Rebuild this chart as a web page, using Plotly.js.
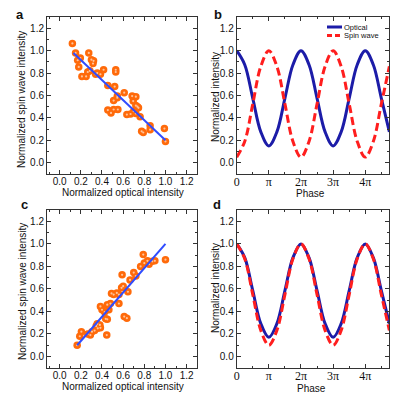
<!DOCTYPE html>
<html>
<head>
<meta charset="utf-8">
<script src="https://cdn.plot.ly/plotly-3.0.1.min.js"></script>
<style>
html, body { margin: 0; padding: 0; background: #fff; }
#chart { width: 416px; height: 398px; }
</style>
</head>
<body>
<div id="chart"></div>
<script>
// panel a: spin wave vs optical (anti-correlated)
const aOpt  = [0.12, 0.15, 0.17, 0.195, 0.18, 0.21, 0.25, 0.265, 0.285, 0.275, 0.30, 0.32, 0.315, 0.34, 0.355, 0.385,
               0.415, 0.455, 0.455, 0.485, 0.51, 0.52, 0.53, 0.53, 0.545, 0.545, 0.55, 0.51, 0.61, 0.635, 0.67, 0.685,
               0.695, 0.70, 0.72, 0.72, 0.735, 0.745, 0.72, 0.76, 0.775, 0.79, 0.855, 0.855, 0.99, 1.0];
const aSpin = [1.065, 0.98, 0.915, 0.935, 0.855, 0.77, 0.77, 0.81, 0.82, 0.98, 0.92, 0.91, 0.885, 0.79, 0.80, 0.79,
               0.83, 0.69, 0.47, 0.445, 0.475, 0.68, 0.83, 0.81, 0.595, 0.58, 0.475, 0.555, 0.625, 0.43, 0.435, 0.595,
               0.55, 0.46, 0.59, 0.51, 0.50, 0.49, 0.44, 0.41, 0.28, 0.27, 0.33, 0.295, 0.305, 0.19];
const aFitX = [0.13, 1.0];
const aFitY = [0.98, 0.20];

// panel c: spin wave vs optical (correlated)
const cOpt  = [0.165, 0.19, 0.205, 0.265, 0.29, 0.305, 0.33, 0.345, 0.36, 0.38, 0.385, 0.355, 0.385, 0.40, 0.425, 0.435,
               0.445, 0.45, 0.465, 0.48, 0.49, 0.51, 0.54, 0.56, 0.56, 0.585, 0.59, 0.60, 0.61, 0.635, 0.645, 0.665,
               0.70, 0.72, 0.765, 0.79, 0.80, 0.83, 0.845, 0.875, 0.90, 1.0, 0.45];
const cSpin = [0.10, 0.18, 0.22, 0.20, 0.19, 0.22, 0.23, 0.27, 0.25, 0.28, 0.255, 0.29, 0.445, 0.415, 0.395, 0.335,
               0.19, 0.46, 0.415, 0.47, 0.56, 0.55, 0.565, 0.55, 0.47, 0.61, 0.725, 0.625, 0.355, 0.34, 0.575, 0.68,
               0.745, 0.715, 0.80, 0.905, 0.83, 0.85, 0.82, 0.845, 0.85, 0.86, 0.33];
const cFitX = [0.165, 1.0];
const cFitY = [0.10, 1.0];

// panels b and d: intensity vs phase (phase in units of pi)
const phase = [0, 0.25, 0.5, 0.75, 1, 1.25, 1.5, 1.75, 2, 2.25, 2.5, 2.75, 3, 3.25, 3.5, 3.75, 4, 4.25, 4.5, 4.75];
const bOptical = [1.00, 0.875, 0.575, 0.275, 0.15, 0.275, 0.575, 0.875, 1.00, 0.875, 0.575, 0.275, 0.15, 0.275, 0.575, 0.875, 1.00, 0.875, 0.575, 0.275];
const bSpin    = [0.05, 0.19, 0.525, 0.86, 1.00, 0.86, 0.525, 0.19, 0.05, 0.19, 0.525, 0.86, 1.00, 0.86, 0.525, 0.19, 0.05, 0.19, 0.525, 0.86];
const dOptical = [1.00, 0.878, 0.585, 0.292, 0.17, 0.292, 0.585, 0.878, 1.00, 0.878, 0.585, 0.292, 0.17, 0.292, 0.585, 0.878, 1.00, 0.878, 0.585, 0.292];
const dSpin    = [1.00, 0.868, 0.55, 0.232, 0.10, 0.232, 0.55, 0.868, 1.00, 0.868, 0.55, 0.232, 0.10, 0.232, 0.55, 0.868, 1.00, 0.868, 0.55, 0.232];
const phaseTicks = [0, 1, 2, 3, 4];
const phaseLabels = ['0', 'π', '2π', '3π', '4π'];
const seriesNames = ['Optical', 'Spin wave'];

const sans = 'Liberation Sans Narrow, Arial Narrow, Liberation Sans, Arial, sans-serif';
const orange = '#ff6a0a';
const fitBlue = '#2f4cff';
const navy = '#1c1ca8';
const red = '#ff1e1e';
const redDash = '8px,4px';

// orange ball plus a small pale highlight on top of it
function dots(x, y, xa, ya) {
  return [
    { x: x, y: y, xaxis: xa, yaxis: ya, type: 'scatter', mode: 'markers', showlegend: false,
      marker: { size: 7.5, color: orange, line: { width: 0 } } },
    { x: x, y: y, xaxis: xa, yaxis: ya, type: 'scatter', mode: 'markers', showlegend: false,
      marker: { size: 2.2, color: 'rgba(255,205,170,0.9)', line: { width: 0 } } }
  ];
}
function fit(x, y, xa, ya) {
  return { x: x, y: y, xaxis: xa, yaxis: ya, type: 'scatter', mode: 'lines', showlegend: false,
    line: { color: fitBlue, width: 2 } };
}
function wave(y, xa, ya, name, color, dash) {
  return { x: phase, y: y, xaxis: xa, yaxis: ya, type: 'scatter', mode: 'lines', name: name, showlegend: false,
    line: { color: color, width: 3, dash: dash, shape: 'spline', smoothing: 1 } };
}

const data = [].concat(
  dots(aOpt, aSpin, 'x', 'y'), [fit(aFitX, aFitY, 'x', 'y')],
  [wave(bOptical, 'x2', 'y2', seriesNames[0], navy, 'solid'), wave(bSpin, 'x2', 'y2', seriesNames[1], red, redDash)],
  dots(cOpt, cSpin, 'x3', 'y3'), [fit(cFitX, cFitY, 'x3', 'y3')],
  [wave(dOptical, 'x4', 'y4', seriesNames[0], navy, 'solid'), wave(dSpin, 'x4', 'y4', seriesNames[1], red, redDash)]
);

const common = {
  showline: true, linecolor: '#333', linewidth: 1, mirror: 'ticks',
  ticks: 'inside', ticklen: 4, tickcolor: '#333', tickwidth: 1,
  showgrid: false, zeroline: false, fixedrange: true,
  tickfont: { family: sans, size: 10, color: '#111' }
};
function yax(dom, anchor) {
  return Object.assign({}, common, { domain: dom, anchor: anchor, range: [-0.1, 1.3], dtick: 0.2, tick0: 0,
    tickformat: '.1f', minor: { dtick: 0.1, ticks: 'inside', ticklen: 2, tickcolor: '#333' } });
}
function xnum(dom, anchor) {
  return Object.assign({}, common, { domain: dom, anchor: anchor, range: [-0.12, 1.3], dtick: 0.2, tick0: 0,
    tickformat: '.1f', ticklabelstandoff: -2,
    minor: { dtick: 0.1, ticks: 'inside', ticklen: 2, tickcolor: '#333' } });
}
function xphase(dom, anchor) {
  return Object.assign({}, common, { domain: dom, anchor: anchor, range: [0, 4.75],
    tickmode: 'array', tickvals: phaseTicks, ticktext: phaseLabels, ticklabelstandoff: -3,
    tickfont: { family: 'Liberation Serif, Times New Roman, serif', size: 12, color: '#111' },
    minor: { dtick: 0.5, ticks: 'inside', ticklen: 2, tickcolor: '#333' } });
}

const leftX = [0.113, 0.474];
const rightX = [0.569, 0.936];
const topY = [0.563, 0.957];
const botY = [0.076, 0.472];

function label(text, x, y, size, angle, bold, family, anchor) {
  return { text: bold ? '<b>' + text + '</b>' : text, xref: 'paper', yref: 'paper', x: x / 416, y: 1 - y / 398,
    xanchor: anchor || 'center', yanchor: 'middle', showarrow: false, textangle: angle || 0,
    font: { family: family || sans, size: size, color: '#111' } };
}
const boldFont = 'Liberation Sans, Arial, sans-serif';

// small key in panel b (drawn by hand: the built-in legend rows are too tall)
function keyLine(y, color, dash) {
  return { type: 'line', xref: 'paper', yref: 'paper', x0: 327 / 416, x1: 342 / 416, y0: 1 - y / 398, y1: 1 - y / 398,
    line: { color: color, width: 3, dash: dash } };
}

const layout = {
  width: 416, height: 398,
  margin: { l: 0, r: 0, t: 0, b: 0 },
  paper_bgcolor: '#fff', plot_bgcolor: '#fff',
  showlegend: false,
  xaxis: xnum(leftX, 'y'), yaxis: yax(topY, 'x'),
  xaxis2: xphase(rightX, 'y2'), yaxis2: yax(topY, 'x2'),
  xaxis3: xnum(leftX, 'y3'), yaxis3: yax(botY, 'x3'),
  xaxis4: xphase(rightX, 'y4'), yaxis4: yax(botY, 'x4'),
  shapes: [keyLine(27, navy, 'solid'), keyLine(35.5, red, '5px,3px')],
  annotations: [
    label('a', 20, 14, 13, 0, true, boldFont),
    label('b', 218, 14, 13, 0, true, boldFont),
    label('c', 24, 204, 13, 0, true, boldFont),
    label('d', 217, 204, 13, 0, true, boldFont),
    label('Normalized optical intensity', 123, 192, 10),
    label('Normalized spin wave intensity', 22, 100, 10, -90),
    label('Phase', 310, 193, 10),
    label('Normalized intensity', 215, 97, 10, -90),
    label('Normalized optical intensity', 123, 386, 10),
    label('Normalized spin wave intensity', 22, 292, 10, -90),
    label('Phase', 311, 388, 10),
    label('Normalized intensity', 215, 288, 10, -90),
    label(seriesNames[0], 342, 27, 7.5, 0, false, sans, 'left'),
    label(seriesNames[1], 342, 35.5, 7.5, 0, false, sans, 'left')
  ]
};

Plotly.newPlot('chart', data, layout, { staticPlot: true, displayModeBar: false });
</script>
</body>
</html>
